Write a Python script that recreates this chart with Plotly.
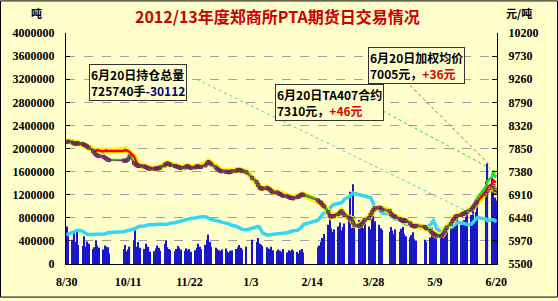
import pandas as pd
import plotly.graph_objects as go

# ---------------- data ----------------
holidays = ["2012-10-01", "2012-10-02", "2012-10-03", "2012-10-04", "2012-10-05",
            "2013-01-01", "2013-01-02", "2013-01-03",
            "2013-02-11", "2013-02-12", "2013-02-13", "2013-02-14", "2013-02-15",
            "2013-04-04", "2013-04-05", "2013-04-29", "2013-04-30", "2013-05-01",
            "2013-06-10", "2013-06-11", "2013-06-12"]
dates = [d for d in pd.bdate_range("2012-08-30", "2013-06-20")
         if d.strftime("%Y-%m-%d") not in holidays]

tick_dates = ["2012-08-30", "2012-10-11", "2012-11-22", "2013-01-03",
              "2013-02-14", "2013-03-28", "2013-05-09", "2013-06-20"]
tick_labels = ["8/30", "10/11", "11/22", "1/3", "2/14", "3/28", "5/9", "6/20"]

volume = [650000, 480000,
          420000, 550000, 380000, 600000, 330000,
          310000, 480000, 300000, 390000, 350000,
          260000, 290000, 410000, 320000, 280000,
          250000, 320000, 300000, 290000, 180000,
          260000, 330000, 220000, 250000, 300000,
          410000, 580000, 300000, 380000, 280000,
          260000, 350000, 240000, 300000, 210000,
          220000, 270000, 320000,
          280000, 230000,
          350000, 410000, 290000, 260000, 240000,
          220000, 260000, 310000, 280000, 250000,
          230000, 270000, 240000, 260000, 210000,
          240000, 280000, 350000, 300000, 260000,
          330000, 420000, 510000, 380000, 300000,
          280000, 260000, 240000, 230000, 250000,
          270000, 220000, 200000, 230000, 240000,
          260000, 290000, 330000, 280000, 250000,
          300000,
          420000,
          380000, 450000, 350000, 330000, 310000,
          290000, 270000, 260000, 300000, 240000,
          220000, 250000, 230000, 210000, 260000,
          200000, 240000, 220000, 250000,
          230000,
          210000, 180000, 240000, 260000, 200000,
          290000, 320000, 380000, 450000, 520000,
          680000, 780000, 620000, 560000,
          600000,
          650000, 720000, 580000, 640000, 700000,
          760000, 1250000, 620000, 1380000, 820000,
          760000, 700000, 680000, 620000, 720000,
          650000, 600000, 780000, 850000, 740000,
          680000, 620000, 590000,
          560000, 640000, 580000, 520000, 600000,
          560000, 610000, 640000, 520000, 480000,
          460000, 500000, 550000, 430000, 400000,
          420000, 380000,
          460000, 630000, 520000, 450000, 550000,
          500000, 580000, 620000, 560000, 650000,
          700000, 680000, 620000, 740000, 780000,
          680000, 700000, 760000, 820000, 900000,
          850000, 1030000, 780000, 900000, 1090000,
          1430000, 1740000,
          1490000, 1350000, 1150000, 1100000]

open_interest = [496000, 520000,
                 545000, 560000, 575000, 580000, 585000,
                 570000, 545000, 525000, 515000, 510000,
                 512000, 515000, 518000, 520000, 515000,
                 513000, 520000, 530000, 540000, 545000,
                 560000, 565000, 575000, 585000, 590000,
                 600000, 615000, 630000, 645000, 655000,
                 660000, 665000, 672000, 680000, 684000,
                 680000, 678000, 685000,
                 688000, 690000,
                 686000, 684000, 690000, 700000, 708000,
                 715000, 722000, 730000, 738000, 745000,
                 752000, 760000, 770000, 780000, 790000,
                 798000, 805000, 812000, 818000, 820000,
                 818000, 810000, 795000, 780000, 770000,
                 760000, 752000, 745000, 735000, 725000,
                 715000, 705000, 695000, 684000, 670000,
                 655000, 640000, 625000, 610000, 600000,
                 590000,
                 620000,
                 640000, 650000, 635000, 600000, 540000,
                 500000, 496000, 505000, 510000, 512000,
                 515000, 520000, 525000, 528000, 530000,
                 540000, 550000, 560000, 570000,
                 575000,
                 585000, 600000, 620000, 650000, 684000,
                 760000, 800000, 830000, 855000, 880000,
                 920000, 960000, 1000000, 1020000,
                 1030000,
                 1040000, 1050000, 1060000, 1080000, 1120000,
                 1160000, 1180000, 1210000, 1230000, 1220000,
                 1200000, 1190000, 1185000, 1180000, 1170000,
                 1160000, 1150000, 1100000, 1020000, 960000,
                 930000, 900000, 880000,
                 860000, 840000, 810000, 790000, 775000,
                 760000, 740000, 720000, 700000, 690000,
                 684000, 675000, 665000, 650000, 640000,
                 632000, 640000,
                 680000, 720000, 752000, 700000, 620000,
                 560000, 547000, 580000, 610000, 630000,
                 632000, 650000, 670000, 690000, 710000,
                 718000, 710000, 700000, 690000, 684000,
                 690000, 720000, 760000, 790000, 803000,
                 780000, 750000,
                 770000, 760000, 755852, 725740]

price_yellow = [7990, 8000,
                7980, 7960, 7950, 7970, 7960,
                7950, 7940, 7920, 7900, 7880,
                7830, 7810, 7790, 7810, 7800,
                7790, 7810, 7820, 7800, 7790,
                7810, 7830, 7800, 7790, 7770,
                7680, 7600, 7540, 7520, 7510,
                7500, 7480, 7470, 7460, 7450,
                7440, 7450, 7460,
                7450, 7470,
                7520, 7550, 7560, 7540, 7520,
                7510, 7500, 7480, 7470, 7460,
                7480, 7500, 7490, 7480, 7470,
                7480, 7500, 7490, 7480, 7490,
                7520, 7560, 7590, 7570, 7530,
                7480, 7440, 7420, 7410, 7400,
                7390, 7380, 7370, 7390, 7400,
                7410, 7420, 7430, 7410, 7400,
                7380,
                7250,
                7180, 7120, 7060, 7050, 7040,
                7060, 7050, 7020, 6990, 6970,
                6960, 6950, 6930, 6910, 6900,
                6880, 6870, 6860, 6850,
                6850,
                6870, 6890, 6910, 6920, 6910,
                6800, 6780, 6750, 6710, 6690,
                6560, 6480, 6470, 6490,
                6480,
                6520, 6560, 6580, 6540, 6500,
                6450, 6440, 6420, 6350, 6290,
                6280, 6300, 6330, 6360, 6400,
                6440, 6500, 6560, 6620, 6640,
                6650, 6640, 6620,
                6580, 6520, 6500, 6480, 6460,
                6420, 6400, 6390, 6400, 6380,
                6330, 6290, 6280, 6270, 6280,
                6260, 6230,
                6180, 6140, 6120, 6100, 6080,
                6070, 6090, 6130, 6180, 6240,
                6320, 6380, 6420, 6460, 6480,
                6500, 6520, 6530, 6550, 6560,
                6600, 6640, 6680, 6720, 6760,
                6950, 7000,
                7060, 7110, 7000, 6980]

price_red = [7985, 7995,
             7975, 7965, 7945, 7965, 7955,
             7945, 7935, 7915, 7895, 7870,
             7820, 7800, 7800, 7820, 7810,
             7790, 7800, 7810, 7795, 7800,
             7800, 7820, 7810, 7800, 7780,
             7690, 7610, 7550, 7520, 7505,
             7495, 7485, 7465, 7455, 7445,
             7445, 7455, 7455,
             7455, 7475,
             7515, 7545, 7555, 7545, 7525,
             7505, 7495, 7485, 7475, 7465,
             7475, 7495, 7495, 7475, 7465,
             7475, 7495, 7495, 7485, 7485,
             7515, 7555, 7585, 7565, 7535,
             7475, 7445, 7425, 7405, 7395,
             7385, 7385, 7375, 7385, 7395,
             7405, 7425, 7425, 7415, 7405,
             7375,
             7255,
             7175, 7115, 7065, 7045, 7045,
             7055, 7045, 7025, 6995, 6965,
             6965, 6945, 6935, 6915, 6895,
             6885, 6875, 6855, 6855,
             6845,
             6875, 6885, 6905, 6925, 6915,
             6805, 6775, 6755, 6715, 6685,
             6565, 6485, 6475, 6485,
             6485,
             6525, 6555, 6585, 6545, 6505,
             6455, 6435, 6425, 6355, 6295,
             6285, 6305, 6325, 6365, 6405,
             6445, 6505, 6565, 6615, 6645,
             6655, 6645, 6615,
             6585, 6525, 6495, 6485, 6465,
             6425, 6405, 6385, 6405, 6385,
             6335, 6295, 6285, 6275, 6285,
             6265, 6235,
             6185, 6145, 6125, 6105, 6085,
             6075, 6095, 6135, 6185, 6245,
             6325, 6385, 6425, 6465, 6485,
             6505, 6525, 6535, 6555, 6565,
             6610, 6650, 6690, 6730, 6780,
             6990, 7060,
             7130, 7200, 7170, 7180]

price_green = [7990, 8000,
               7980, 7960, 7950, 7970, 7960,
               7950, 7930, 7920, 7900, 7870,
               7800, 7760, 7730, 7710, 7700,
               7690, 7670, 7650, 7630, 7620,
               7610, 7600, 7610, 7640, 7700,
               7560, 7530, 7510, 7500, 7500,
               7490, 7480, 7460, 7450, 7440,
               7440, 7450, 7450,
               7450, 7470,
               7510, 7540, 7550, 7540, 7520,
               7500, 7490, 7480, 7470, 7460,
               7470, 7490, 7490, 7470, 7460,
               7470, 7490, 7490, 7480, 7480,
               7510, 7550, 7580, 7560, 7530,
               7470, 7440, 7420, 7400, 7390,
               7380, 7380, 7370, 7380, 7390,
               7400, 7420, 7420, 7410, 7400,
               7370,
               7250,
               7170, 7110, 7060, 7040, 7040,
               7050, 7040, 7020, 6990, 6960,
               6960, 6940, 6930, 6910, 6890,
               6880, 6870, 6850, 6850,
               6840,
               6870, 6880, 6900, 6920, 6910,
               6800, 6770, 6750, 6710, 6680,
               6560, 6480, 6470, 6480,
               6480,
               6520, 6550, 6580, 6540, 6500,
               6450, 6430, 6420, 6350, 6290,
               6280, 6300, 6320, 6360, 6400,
               6440, 6500, 6560, 6610, 6640,
               6650, 6640, 6610,
               6580, 6520, 6490, 6480, 6460,
               6420, 6400, 6380, 6400, 6380,
               6330, 6290, 6280, 6270, 6280,
               6260, 6230,
               6180, 6140, 6120, 6100, 6080,
               6070, 6090, 6130, 6180, 6240,
               6320, 6380, 6420, 6460, 6480,
               6500, 6520, 6540, 6560, 6580,
               6640, 6690, 6740, 6790, 6850,
               7080, 7180,
               7280, 7400, 7264, 7310]

price_avg = [7985, 7990,
             7970, 7955, 7945, 7960, 7950,
             7940, 7925, 7910, 7890, 7865,
             7795, 7755, 7725, 7705, 7695,
             7685, 7665, 7645, 7625, 7615,
             7605, 7600, 7605, 7630, 7690,
             7555, 7525, 7505, 7495, 7495,
             7485, 7475, 7455, 7445, 7440,
             7435, 7445, 7445,
             7445, 7465,
             7505, 7535, 7545, 7535, 7515,
             7495, 7485, 7475, 7465, 7455,
             7465, 7485, 7485, 7465, 7455,
             7465, 7485, 7485, 7475, 7475,
             7505, 7545, 7575, 7555, 7525,
             7465, 7435, 7415, 7395, 7385,
             7375, 7375, 7365, 7375, 7385,
             7395, 7415, 7415, 7405, 7395,
             7365,
             7245,
             7165, 7105, 7055, 7035, 7035,
             7045, 7035, 7015, 6985, 6955,
             6955, 6935, 6925, 6905, 6885,
             6875, 6865, 6845, 6845,
             6835,
             6865, 6875, 6895, 6915, 6905,
             6795, 6765, 6745, 6705, 6675,
             6555, 6475, 6465, 6475,
             6475,
             6515, 6545, 6575, 6535, 6495,
             6445, 6425, 6415, 6345, 6285,
             6275, 6295, 6315, 6355, 6395,
             6435, 6495, 6555, 6605, 6635,
             6645, 6635, 6605,
             6575, 6515, 6485, 6475, 6455,
             6415, 6395, 6375, 6395, 6375,
             6325, 6285, 6275, 6265, 6275,
             6255, 6225,
             6175, 6135, 6115, 6095, 6075,
             6065, 6085, 6125, 6175, 6235,
             6315, 6375, 6415, 6455, 6475,
             6495, 6515, 6525, 6545, 6555,
             6605, 6645, 6685, 6725, 6765,
             6920, 6990,
             7050, 7090, 6969, 7005]

for s in (volume, open_interest, price_yellow, price_red, price_green, price_avg):
    assert len(s) == len(dates), (len(s), len(dates))

# ---------------- figure ----------------
W, H = 558, 301
ML, MR, MT, MB = 66, 61, 33, 34
PW, PH = W - ML - MR, H - MT - MB
BG = "#FFFFCC"
NUMFONT = dict(family="Liberation Serif", size=12, color="black", weight="bold")
CJK = "Noto Sans CJK SC"


def px(x, y):
    return (x - ML) / PW, (H - MB - y) / PH


fig = go.Figure()
fig.add_trace(go.Bar(x=dates, y=volume, marker=dict(color="#1818C8", line=dict(width=0)),
                     yaxis="y"))
fig.add_trace(go.Scatter(x=dates, y=open_interest, mode="lines",
                         line=dict(color="#33D6F5", width=3.5), yaxis="y"))
fig.add_trace(go.Scatter(x=dates, y=price_yellow, mode="lines",
                         line=dict(color="#FFF000", width=6), yaxis="y2"))
fig.add_trace(go.Scatter(x=dates, y=price_red, mode="lines",
                         line=dict(color="#FF0000", width=2.5), yaxis="y2"))
fig.add_trace(go.Scatter(x=dates, y=price_green, mode="lines",
                         line=dict(color="#22E022", width=2.5), yaxis="y2"))
fig.add_trace(go.Scatter(x=dates, y=price_avg, mode="lines+markers",
                         line=dict(color="#7A2A6A", width=0.8),
                         marker=dict(symbol="square-open", size=3, color="#702060",
                                     line=dict(width=1)),
                         yaxis="y2"))

shapes = []
# outer frame
x0, y0 = px(0.5, 300.5)
x1, y1 = px(557.5, 0.5)
shapes.append(dict(type="rect", xref="paper", yref="paper", x0=x0, y0=y0, x1=x1, y1=y1,
                   line=dict(color="black", width=1), layer="below"))
# leader lines
for (ax0, ay0, ax1, ay1, col) in [(197, 80, 478, 219, "#55CCCC"),
                                  (383, 112, 490, 170, "#33CC33"),
                                  (406, 82, 488, 165, "#FF3333")]:
    a, b = px(ax0, ay0)
    c, d = px(ax1, ay1)
    shapes.append(dict(type="line", xref="paper", yref="paper", x0=a, y0=b, x1=c, y1=d,
                       line=dict(color=col, width=1, dash="dot")))

annotations = []
boxfont = dict(family=CJK, size=12, color="black", weight="bold")
for (bx, by, txt) in [
        (89, 64, '6月20日持仓总量<br>725740手<span style="color:#000080">-30112</span>'),
        (275, 85, '6月20日TA407合约<br>7310元，<span style="color:#DD0000">+46元</span>'),
        (368, 47, '6月20日加权均价<br>7005元，<span style="color:#DD0000">+36元</span>')]:
    a, b = px(bx, by)
    annotations.append(dict(xref="paper", yref="paper", x=a, y=b, xanchor="left",
                            yanchor="top", text=txt, showarrow=False, align="left",
                            font=boxfont, bgcolor=BG, bordercolor="#333333",
                            borderwidth=1, borderpad=1))
a, b = px(36, 13)
annotations.append(dict(xref="paper", yref="paper", x=a, y=b, text="吨", showarrow=False,
                        xanchor="center", yanchor="middle",
                        font=dict(family=CJK, size=11, color="black", weight="bold")))
a, b = px(519, 13)
annotations.append(dict(xref="paper", yref="paper", x=a, y=b, text="元/吨", showarrow=False,
                        xanchor="center", yanchor="middle",
                        font=dict(family=CJK, size=11, color="black", weight="bold")))

fig.update_layout(
    width=W, height=H,
    margin=dict(l=ML, r=MR, t=MT, b=MB),
    paper_bgcolor=BG, plot_bgcolor=BG,
    showlegend=False,
    bargap=0.2,
    title=dict(text="2012/13年度郑商所PTA期货日交易情况", x=0.497, xanchor="center",
               y=1 - 17 / H, yanchor="middle",
               font=dict(family=CJK, size=16, color="#CC0000", weight="bold")),
    xaxis=dict(type="date", range=["2012-08-29 12:00", "2013-06-20 12:00"],
               tickvals=tick_dates, ticktext=tick_labels, tickfont=NUMFONT,
               showgrid=False, showline=True, linecolor="black", linewidth=1,
               ticks="", ticklabelstandoff=7, zeroline=False),
    yaxis=dict(range=[0, 4000000], dtick=400000, tick0=0, tickformat="d",
               tickfont=NUMFONT, showline=True, linecolor="black", linewidth=1,
               ticks="inside", ticklen=4, tickcolor="black",
               showgrid=True, gridcolor="#A0A0A0", griddash="dash", gridwidth=1,
               zeroline=False, ticklabelstandoff=8),
    yaxis2=dict(range=[5500, 10200], dtick=470, tick0=5500, tickformat="d",
                overlaying="y", side="right",
                tickfont=NUMFONT, showline=True, linecolor="black", linewidth=1,
                ticks="inside", ticklen=5, tickcolor="black",
                showgrid=False, zeroline=False, ticklabelstandoff=8),
    shapes=shapes,
    annotations=annotations,
)

fig.write_html("out.html")
